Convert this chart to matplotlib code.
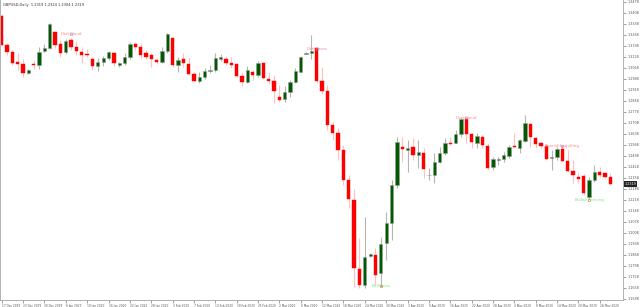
import matplotlib.pyplot as plt
import numpy as np

# daily GBPUSD candles, 17 Dec 2019 .. 28 May 2020
opens = [1.3389, 1.3203, 1.3156, 1.3093, 1.3082, 1.3023, 1.3080, 1.3077, 1.3165, 1.3186,
         1.3286, 1.3209, 1.3156, 1.3235, 1.3188, 1.3160, 1.3146, 1.3112, 1.3069, 1.3095,
         1.3118, 1.3150, 1.3076, 1.3086, 1.3128, 1.3209, 1.3188, 1.3154, 1.3137, 1.3107,
         1.3097, 1.3167, 1.3245, 1.3076, 1.3112, 1.3082, 1.3016, 1.2976, 1.3001, 1.3037,
         1.3044, 1.3116, 1.3114, 1.3090, 1.3082, 1.3006, 1.2969, 1.3029, 1.3012, 1.3086,
         1.2985, 1.2974, 1.2872, 1.2857, 1.2906, 1.2966, 1.3033, 1.3148, 1.3154, 1.3182,
         1.2974, 1.2912, 1.2694, 1.2643, 1.2535, 1.2344, 1.2217, 1.1778, 1.1676, 1.1863,
         1.1867, 1.1751, 1.1945, 1.2069, 1.2312, 1.2552, 1.2537, 1.2552, 1.2503, 1.2518,
         1.2373, 1.2376, 1.2461, 1.2514, 1.2581, 1.2581, 1.2635, 1.2730, 1.2635, 1.2581,
         1.2616, 1.2560, 1.2425, 1.2471, 1.2478, 1.2497, 1.2560, 1.2546, 1.2592, 1.2700,
         1.2609, 1.2578, 1.2562, 1.2486, 1.2492, 1.2539, 1.2467, 1.2401, 1.2363, 1.2370,
         1.2238, 1.2344, 1.2397, 1.2387, 1.2365]
highs = [1.3400, 1.3214, 1.3171, 1.3154, 1.3112, 1.3050, 1.3103, 1.3192, 1.3209, 1.3345,
         1.3292, 1.3235, 1.3241, 1.3245, 1.3228, 1.3192, 1.3177, 1.3125, 1.3118, 1.3133,
         1.3167, 1.3160, 1.3097, 1.3150, 1.3224, 1.3222, 1.3214, 1.3171, 1.3150, 1.3118,
         1.3192, 1.3277, 1.3252, 1.3128, 1.3150, 1.3118, 1.3033, 1.3033, 1.3055, 1.3076,
         1.3150, 1.3144, 1.3133, 1.3128, 1.3090, 1.3023, 1.3069, 1.3044, 1.3103, 1.3093,
         1.3033, 1.3012, 1.2948, 1.2942, 1.2980, 1.3055, 1.3133, 1.3158, 1.3266, 1.3192,
         1.3065, 1.2948, 1.2713, 1.2675, 1.2567, 1.2376, 1.2287, 1.1975, 1.2107, 1.1880,
         1.1910, 1.1984, 1.2143, 1.2344, 1.2616, 1.2620, 1.2599, 1.2609, 1.2599, 1.2546,
         1.2421, 1.2518, 1.2556, 1.2609, 1.2620, 1.2662, 1.2737, 1.2737, 1.2641, 1.2641,
         1.2630, 1.2578, 1.2492, 1.2492, 1.2524, 1.2567, 1.2641, 1.2603, 1.2758, 1.2709,
         1.2616, 1.2588, 1.2571, 1.2535, 1.2556, 1.2567, 1.2535, 1.2471, 1.2389, 1.2382,
         1.2365, 1.2440, 1.2429, 1.2397, 1.2387]
lows = [1.3196, 1.3139, 1.3076, 1.3044, 1.2997, 1.3016, 1.3050, 1.3050, 1.3156, 1.3175,
        1.3184, 1.3128, 1.3144, 1.3171, 1.3139, 1.3090, 1.3125, 1.3044, 1.3037, 1.3069,
        1.3107, 1.3071, 1.3063, 1.3076, 1.3114, 1.3171, 1.3118, 1.3116, 1.3065, 1.3080,
        1.3086, 1.3154, 1.3065, 1.3033, 1.3065, 1.3012, 1.2969, 1.2963, 1.2985, 1.3027,
        1.3033, 1.3103, 1.3076, 1.3055, 1.2997, 1.2944, 1.2959, 1.2980, 1.2997, 1.2985,
        1.2955, 1.2832, 1.2842, 1.2842, 1.2874, 1.2959, 1.3029, 1.3144, 1.3114, 1.2963,
        1.2889, 1.2662, 1.2599, 1.2471, 1.2312, 1.2168, 1.1666, 1.1655, 1.1655, 1.1855,
        1.1676, 1.1666, 1.1835, 1.1963, 1.2291, 1.2461, 1.2397, 1.2471, 1.2419, 1.2355,
        1.2344, 1.2323, 1.2450, 1.2503, 1.2567, 1.2578, 1.2620, 1.2578, 1.2546, 1.2546,
        1.2546, 1.2408, 1.2408, 1.2440, 1.2461, 1.2482, 1.2546, 1.2514, 1.2584, 1.2556,
        1.2546, 1.2546, 1.2471, 1.2408, 1.2471, 1.2459, 1.2395, 1.2325, 1.2325, 1.2249,
        1.2228, 1.2333, 1.2365, 1.2355, 1.2312]
closes = [1.3203, 1.3156, 1.3090, 1.3082, 1.3023, 1.3044, 1.3074, 1.3160, 1.3186, 1.3335,
          1.3205, 1.3154, 1.3230, 1.3188, 1.3167, 1.3139, 1.3137, 1.3069, 1.3097, 1.3118,
          1.3156, 1.3086, 1.3088, 1.3128, 1.3209, 1.3192, 1.3141, 1.3128, 1.3112, 1.3097,
          1.3165, 1.3271, 1.3076, 1.3107, 1.3086, 1.3016, 1.2976, 1.3001, 1.3037, 1.3044,
          1.3122, 1.3127, 1.3086, 1.3077, 1.3008, 1.2969, 1.3044, 1.3012, 1.3086, 1.2991,
          1.2974, 1.2912, 1.2855, 1.2906, 1.2966, 1.3039, 1.3125, 1.3154, 1.3167, 1.2974,
          1.2910, 1.2694, 1.2643, 1.2535, 1.2344, 1.2221, 1.1783, 1.1676, 1.1856, 1.1872,
          1.1740, 1.1935, 1.2069, 1.2312, 1.2584, 1.2541, 1.2546, 1.2503, 1.2524, 1.2412,
          1.2376, 1.2461, 1.2514, 1.2578, 1.2575, 1.2637, 1.2730, 1.2637, 1.2584, 1.2624,
          1.2567, 1.2419, 1.2476, 1.2478, 1.2503, 1.2556, 1.2552, 1.2599, 1.2705, 1.2620,
          1.2571, 1.2562, 1.2476, 1.2492, 1.2539, 1.2467, 1.2403, 1.2376, 1.2351, 1.2260,
          1.2344, 1.2393, 1.2376, 1.2365, 1.2319]

date_labels = ["17 Dec 2019", "23 Dec 2019", "30 Dec 2019", "6 Jan 2020", "10 Jan 2020",
               "16 Jan 2020", "22 Jan 2020", "28 Jan 2020", "3 Feb 2020", "7 Feb 2020",
               "13 Feb 2020", "19 Feb 2020", "25 Feb 2020", "2 Mar 2020", "6 Mar 2020",
               "12 Mar 2020", "18 Mar 2020", "24 Mar 2020", "30 Mar 2020", "3 Apr 2020",
               "9 Apr 2020", "16 Apr 2020", "22 Apr 2020", "28 Apr 2020", "4 May 2020",
               "8 May 2020", "14 May 2020", "20 May 2020", "26 May 2020"]

# pattern labels: bar index, price level, text
pattern_bars = [13, 59, 87, 105, 110, 71]
pattern_prices = [1.3270, 1.3177, 1.2739, 1.2560, 1.2217, 1.1670]
pattern_names = ["DarkCloud", "DarkCross", "DarkCloud", "BearishEngulfing", "BullishPiercing", "BullCross"]
pattern_bull = [False, False, False, False, True, True]

header = "GBPUSD,Daily  1.2319 1.2324 1.2304 1.2319"
last_price = closes[-1]

x = np.arange(len(opens))
o = np.array(opens)
h = np.array(highs)
l = np.array(lows)
c = np.array(closes)
up = c >= o

fig = plt.figure(figsize=(6.4, 3.07), dpi=100)
ax = fig.add_axes([0, 7.5 / 307, 623 / 640, 299.5 / 307])

ax.vlines(x[up], l[up], h[up], colors="#b5b5b5", lw=0.8, zorder=1)
ax.vlines(x[~up], l[~up], h[~up], colors="#ffc0c0", lw=0.8, zorder=1)
ax.bar(x[up], c[up] - o[up], bottom=o[up], width=0.62, color="#005a00",
       edgecolor="#9a9a9a", linewidth=0.4, zorder=2)
ax.bar(x[~up], o[~up] - c[~up], bottom=c[~up], width=0.62, color="#ff0000",
       edgecolor="#ff0000", linewidth=0.3, zorder=2)

for i, p, name, bull in zip(pattern_bars, pattern_prices, pattern_names, pattern_bull):
    col = "#7fe87f" if bull else "#ff8a8a"
    ax.text(i, p, name, color=col, fontsize=3.0, ha="center", va="center", zorder=3)
    ax.plot(i, p, marker="s", ms=1.8, mfc="none", mec="#9a7fc0" if not bull else "#c08040",
            mew=0.4, zorder=4)

ax.set_xlim(-0.32, 116.35)
ax.set_ylim(1.1584, 1.3489)

yt = 1.3478 - 0.007 * np.arange(28)
ax.yaxis.tick_right()
ax.set_yticks(yt)
ax.set_yticklabels(["%.4f" % v for v in yt])
ax.set_xticks(x[::4])
ax.set_xticklabels(date_labels, ha="left")
ax.tick_params(axis="y", labelsize=2.4, length=2, width=0.4, colors="#555555", pad=1)
ax.tick_params(axis="x", labelsize=2.1, length=2, width=0.4, colors="#555555", pad=1)

for s in ["top"]:
    ax.spines[s].set_visible(False)
for s in ["right", "bottom", "left"]:
    ax.spines[s].set_color("#b0b0b0")
    ax.spines[s].set_linewidth(0.7)

ax.text(1.003, last_price, "%.4f" % last_price, transform=ax.get_yaxis_transform(),
        fontsize=2.4, color="white", ha="left", va="center", clip_on=False,
        bbox=dict(boxstyle="square,pad=0.2", fc="#222222", ec="none"))

fig.text(3 / 640, 1 - 5 / 307, header, fontsize=2.6, color="#333333", va="center")

plt.savefig("out.png", dpi=100)
